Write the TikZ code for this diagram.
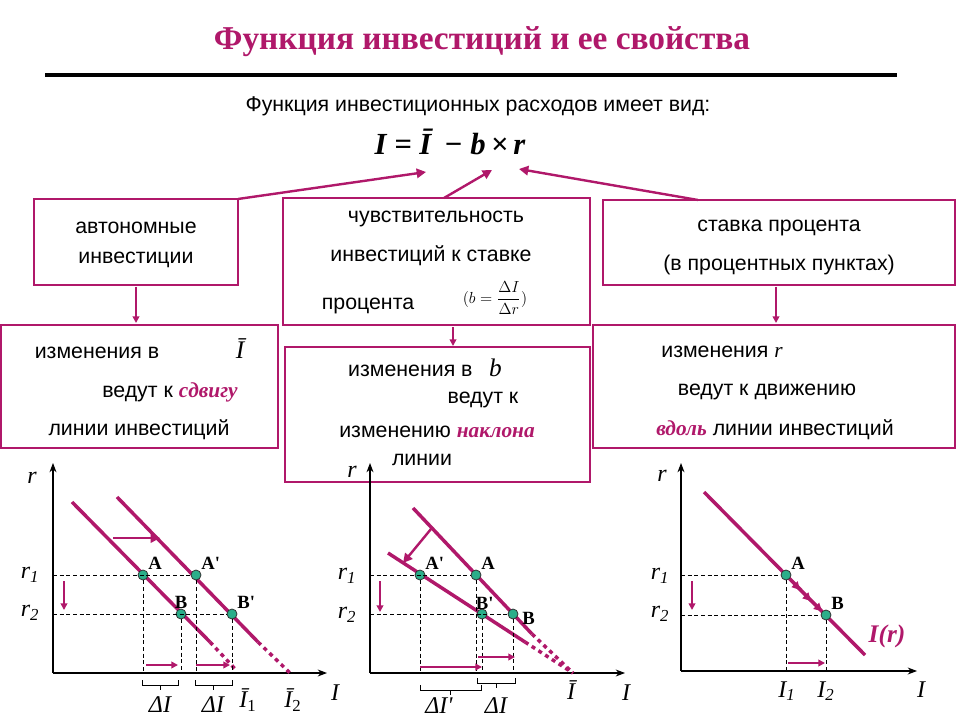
\documentclass[tikz,border=0pt]{standalone}
\usepackage{fontspec}
\setmainfont{Liberation Sans}
\newfontfamily\tms{Liberation Serif}
\usetikzlibrary{arrows.meta}
\definecolor{mag}{HTML}{B0186A}
\definecolor{dotc}{HTML}{2BAE8A}
\newcommand{\hlt}[1]{{\tms\bfseries\itshape\color{mag}#1}}
\tikzset{
 box/.style={draw=mag,line width=2.2pt},
 txt/.style={font=\fontsize{16}{19}\selectfont,inner sep=0pt},
 conn/.style={draw=mag,line width=1.8pt,-{Triangle[length=7pt,width=7pt]}},
 thin/.style={draw=mag,line width=1.4pt,-{Triangle[length=5pt,width=5pt]}},
 iline/.style={draw=mag,line width=2.6pt},
 dline/.style={draw=mag,line width=2.6pt,dash pattern=on 3pt off 3pt},
 axis/.style={draw=black,line width=0.8pt,-{Stealth[length=7pt]}},
 guide/.style={draw=black,line width=0.6pt,dash pattern=on 3pt off 2pt},
 pt/.style={circle,fill=dotc,draw=black!80,line width=0.6pt,inner sep=0pt,minimum size=7.5pt},
 lab/.style={font=\tms\bfseries\fontsize{14}{14}\selectfont,inner sep=1pt},
 ml/.style={font=\tms\itshape\fontsize{18}{18}\selectfont,inner sep=0pt},
}
\newcommand{\brk}[3]{\draw[black,line width=0.6pt] (#1,#3)--(#1,#3+5)--(#2,#3+5)--(#2,#3);
 \draw[black,line width=0.6pt] ({(#1+#2)/2},#3+5)--({(#1+#2)/2},#3+10);}
\begin{document}
\begin{tikzpicture}[x=0.75pt,y=-0.75pt]
\useasboundingbox (0,0) rectangle (960,720);
\fill[white] (0,0) rectangle (960,720);
% title
\node[font=\tms\bfseries\fontsize{25}{25}\selectfont,text=mag] (title) at (482,42) {Функция инвестиций и ее свойства};
\draw[line width=2.4pt] (45,75) -- (897,75);
\node[txt] (sub) at (478,106) {Функция инвестиционных расходов имеет вид:};
\node[font=\tms\bfseries\itshape\fontsize{23}{23}\selectfont] (form) at (450,142) {I = \=I \,− b\,×\,r};
\coordinate (t1) at (426,172); \coordinate (t2) at (492,170); \coordinate (t3) at (519,169);
% boxes
\draw[box] (34,199) rectangle (238,285);
\node[txt,align=center] (b1) at (136,245) {автономные\\[4pt]инвестиции};
\draw[box] (283,198) rectangle (590,325);
\node[txt] (b2a) at (436,219) {чувствительность};
\node[txt] (b2b) at (431,256) {инвестиций к ставке};
\node[txt] (b2c) at (368,306) {процента};
\node[font=\fontsize{12}{12}\selectfont,inner sep=0pt] (b2f) at (495,298) {$(b=\displaystyle\frac{\Delta I}{\Delta r})$};
\draw[box] (603,200) rectangle (955,285);
\node[txt] (b3a) at (779,228) {ставка процента};
\node[txt] (b3b) at (779,265) {(в процентных пунктах)};
\draw[box] (1,325) rectangle (278,448);
\node[txt] (b4a) at (97,353) {изменения в};
\node[font=\tms\itshape\fontsize{19}{19}\selectfont,inner sep=0pt] (b4i) at (240,349) {\=I};
\node[txt] (b4b) at (170,392) {ведут к \hlt{сдвигу}};
\node[txt] (b4c) at (139,430) {линии инвестиций};
\draw[box] (285,347) rectangle (590,482);
\node[txt] (b5a) at (425,368) {изменения в \enspace{\tms\itshape\fontsize{19}{19}\selectfont b}};
\node[txt] (b5b) at (483,400) {ведут к};
\node[txt] (b5c) at (437,432) {изменению \hlt{наклона}};
\node[txt] (b5d) at (422,460) {линии};
\draw[box] (593,325) rectangle (955,448);
\node[txt] (b6a) at (722,352) {изменения {\tms\itshape r}};
\node[txt] (b6b) at (767,392) {ведут к движению};
\node[txt] (b6c) at (775,430) {\hlt{вдоль} линии инвестиций};
% connectors
\draw[conn] (238,199) -- (t1);
\draw[conn] (444,198) -- (t2);
\draw[conn] (698,200) -- (t3);
\draw[thin] (136,287) -- (136,323);
\draw[thin] (453,327) -- (453,346);
\draw[thin] (776,287) -- (776,323);
% ===== graph 1
\draw[axis] (53,673) -- (53,463);
\draw[axis] (53,673) -- (327,673);
\node[ml] (g1r) at (32,478) {r};
\node[ml] (g1r1) at (30,575) {r\textsubscript{1}};
\node[ml] (g1r2) at (30,613) {r\textsubscript{2}};
\node[ml] (g1I) at (335,693) {I};
\draw[iline] (72,502) -- (210,642);
\draw[dline] (210,642) -- (237,671);
\draw[iline] (117,497) -- (258,642);
\draw[dline] (258,642) -- (290,673);
\node[pt] (A1) at (143,575) {}; \node[pt] (B1) at (181,614) {};
\node[pt] (A1p) at (196,575) {}; \node[pt] (B1p) at (232,614) {};
\draw[guide] (53,575) -- (A1p.west); \draw[guide] (53,614) -- (B1p.west);
\draw[guide] (A1.south) -- (143,673); \draw[guide] (B1.south) -- (181,673);
\draw[guide] (A1p.south) -- (196,673); \draw[guide] (B1p.south) -- (232,673);
\node[lab,anchor=south west] at (A1.north east) {A};
\node[lab,anchor=south west] at (A1p.north east) {A'};
\node[lab,anchor=south] at ([yshift=-1pt]B1.north) {B};
\node[lab,anchor=south west] at (B1p.north east) {B'};
\draw[thin] (64,581) -- (64,610);
\draw[conn] (113,538) -- (160,538);
\draw[thin] (146,665) -- (178,665);
\draw[thin] (196,665) -- (230,665);
\brk{142}{178}{680} \brk{195}{232}{680}
\node[ml] at (160,705) {ΔI}; \node[ml] at (213,705) {ΔI};
\node[ml] at (248,700) {\=I\textsubscript{\upshape 1}};
\node[ml] at (293,700) {\=I\textsubscript{\upshape 2}};
% ===== graph 2
\draw[axis] (370,673) -- (370,463);
\draw[axis] (370,673) -- (625,673);
\node[ml] (g2r) at (352,472) {r};
\node[ml] at (347,576) {r\textsubscript{1}};
\node[ml] at (347,615) {r\textsubscript{2}};
\node[ml] at (626,693) {I};
\draw[iline] (413,508) -- (532,634);
\draw[dline] (532,634) -- (573,673);
\draw[iline] (388,553) -- (525,642);
\draw[dline] (525,642) -- (573,673);
\node[pt] (A2) at (476,575) {}; \node[pt] (B2) at (513,614) {};
\node[pt] (A2p) at (420,575) {}; \node[pt] (B2p) at (482,614) {};
\draw[guide] (370,575) -- (A2.west); \draw[guide] (370,614) -- (B2.west);
\draw[guide] (A2p.south) -- (420,673); \draw[guide] (A2.south) -- (476,673);
\draw[guide] (B2p.south) -- (482,673); \draw[guide] (B2.south) -- (513,673);
\node[lab,anchor=south west] at (A2.north east) {A};
\node[lab,anchor=south west] at (A2p.north east) {A'};
\node[lab,anchor=south] at ([xshift=2pt,yshift=-2pt]B2p.north) {B'};
\node[lab,anchor=west] at ([xshift=3pt,yshift=-6pt]B2.north east) {B};
\draw[conn] (431,529) -- (403,563);
\draw[thin] (380,581) -- (380,612);
\draw[thin] (420,667) -- (482,667);
\draw[thin] (478,657) -- (515,657);
\brk{420}{481}{685} \brk{477}{515}{678}
\node[ml] at (439,706) {ΔI'}; \node[ml] at (496,706) {ΔI};
\node[ml] at (571,690) {\=I};
% ===== graph 3
\draw[axis] (681,671) -- (681,463);
\draw[axis] (681,671) -- (917,671);
\node[ml] at (662,476) {r};
\node[ml] at (660,576) {r\textsubscript{1}};
\node[ml] at (660,614) {r\textsubscript{2}};
\node[ml] at (921,690) {I};
\draw[iline] (704,492) -- (865,655);
\node[pt] (A3) at (786,575) {}; \node[pt] (B3) at (826,615) {};
\draw[guide] (681,575) -- (A3.west); \draw[guide] (681,615) -- (B3.west);
\draw[guide] (A3.south) -- (786,671); \draw[guide] (B3.south) -- (826,671);
\node[lab,anchor=south west] at (A3.north east) {A};
\node[lab,anchor=south west] at (B3.north east) {B};
\draw[mag,line width=2pt,-{Triangle[length=6pt,width=6pt]}] (A3) -- (800,590);
\draw[mag,line width=2pt,-{Triangle[length=6pt,width=6pt]}] (798,588) -- (811,601);
\draw[mag,line width=2pt,-{Triangle[length=6pt,width=6pt]}] (809,599) -- (B3);
\draw[thin] (788,663) -- (825,663);
\draw[thin] (692,581) -- (692,610);
\node[ml] at (787,691) {I\textsubscript{1}};
\node[ml] at (826,691) {I\textsubscript{2}};
\node[font=\tms\bfseries\itshape\fontsize{19}{19}\selectfont,text=mag] (Ir) at (887,636) {I(r)};
\end{tikzpicture}
\end{document}
